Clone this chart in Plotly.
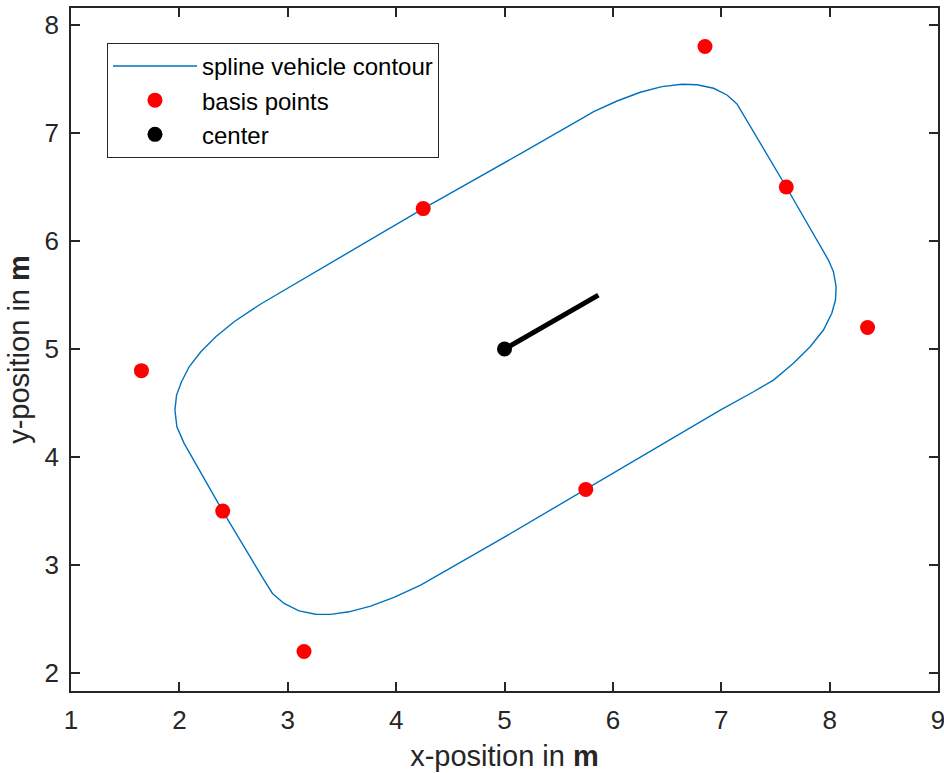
import plotly.graph_objects as go

# Closed spline contour of the vehicle (x, y in m)
contour_x = [4.25, 3.212, 2.751, 2.505, 2.336, 2.198, 2.090, 2.020, 1.974, 1.959,
             1.977, 2.044, 2.336, 2.40, 2.782, 2.859, 2.966, 3.104, 3.258, 3.396,
             3.565, 3.765, 3.980, 4.226, 4.963, 5.75, 6.622, 6.991, 7.298, 7.482,
             7.666, 7.820, 7.943, 8.020, 8.054, 8.060, 8.035, 7.989, 7.60, 7.544,
             7.221, 7.145, 7.053, 6.929, 6.776, 6.638, 6.453, 6.253, 6.039, 5.823,
             5.700, 5.209, 4.25]
contour_y = [6.30, 5.694, 5.417, 5.253, 5.114, 4.975, 4.836, 4.697, 4.574, 4.435,
             4.281, 4.127, 3.618, 3.50, 2.861, 2.738, 2.645, 2.577, 2.546, 2.544,
             2.568, 2.620, 2.701, 2.815, 3.238, 3.70, 4.219, 4.435, 4.605, 4.713,
             4.868, 5.021, 5.176, 5.331, 5.454, 5.577, 5.716, 5.824, 6.50, 6.595,
             7.151, 7.269, 7.352, 7.414, 7.447, 7.451, 7.429, 7.377, 7.296, 7.197,
             7.127, 6.843, 6.30]

# Basis points: corners and edge midpoints of the vehicle box
basis_x = [1.65, 2.40, 3.15, 5.75, 8.35, 7.60, 6.85, 4.25]
basis_y = [4.80, 3.50, 2.20, 3.70, 5.20, 6.50, 7.80, 6.30]

# Vehicle center and heading indicator
center_x = [5.0]
center_y = [5.0]
heading_x = [5.0, 5.866]
heading_y = [5.0, 5.5]

x_ticks = [1, 2, 3, 4, 5, 6, 7, 8, 9]
y_ticks = [2, 3, 4, 5, 6, 7, 8]

axis_color = "#262626"
font_family = "Liberation Sans, Arial, sans-serif"

fig = go.Figure()
fig.add_trace(go.Scatter(
    x=contour_x, y=contour_y, mode="lines",
    line=dict(color="#0072BD", width=1.4),
    name="spline vehicle contour"))
fig.add_trace(go.Scatter(
    x=basis_x, y=basis_y, mode="markers",
    marker=dict(color="#FF0000", size=15),
    name="basis points"))
fig.add_trace(go.Scatter(
    x=heading_x, y=heading_y, mode="lines",
    line=dict(color="black", width=5),
    showlegend=False, hoverinfo="skip"))
fig.add_trace(go.Scatter(
    x=center_x, y=center_y, mode="markers",
    marker=dict(color="black", size=15),
    name="center"))

axis_common = dict(
    showgrid=False, zeroline=False, automargin=False,
    showline=True, linecolor=axis_color, linewidth=1.5,
    mirror="ticks", ticks="inside", ticklen=9, tickwidth=1.5,
    tickcolor=axis_color, ticklabelstandoff=5, ticklabeloverflow="allow",
    tickfont=dict(family=font_family, size=26, color=axis_color),
)

fig.update_xaxes(
    range=[1, 9], tickvals=x_ticks,
    title=dict(text="x-position in <b>m</b>", standoff=12,
               font=dict(family=font_family, size=29, color=axis_color)),
    **axis_common)
fig.update_yaxes(
    range=[1.835, 8.157], tickvals=y_ticks,
    title=dict(text="y-position in <b>m</b>", standoff=6,
               font=dict(family=font_family, size=29, color=axis_color)),
    **axis_common)

fig.update_layout(
    width=944, height=773,
    margin=dict(l=71, r=6, t=8, b=82),
    paper_bgcolor="white", plot_bgcolor="white",
    font=dict(family=font_family, color="black"),
    legend=dict(
        x=0.0415, y=0.949, xanchor="left", yanchor="top",
        bgcolor="white", bordercolor=axis_color, borderwidth=1,
        font=dict(family=font_family, size=24, color="black"),
        itemwidth=84, tracegroupgap=0,
    ),
)

fig.write_html("out.html")
